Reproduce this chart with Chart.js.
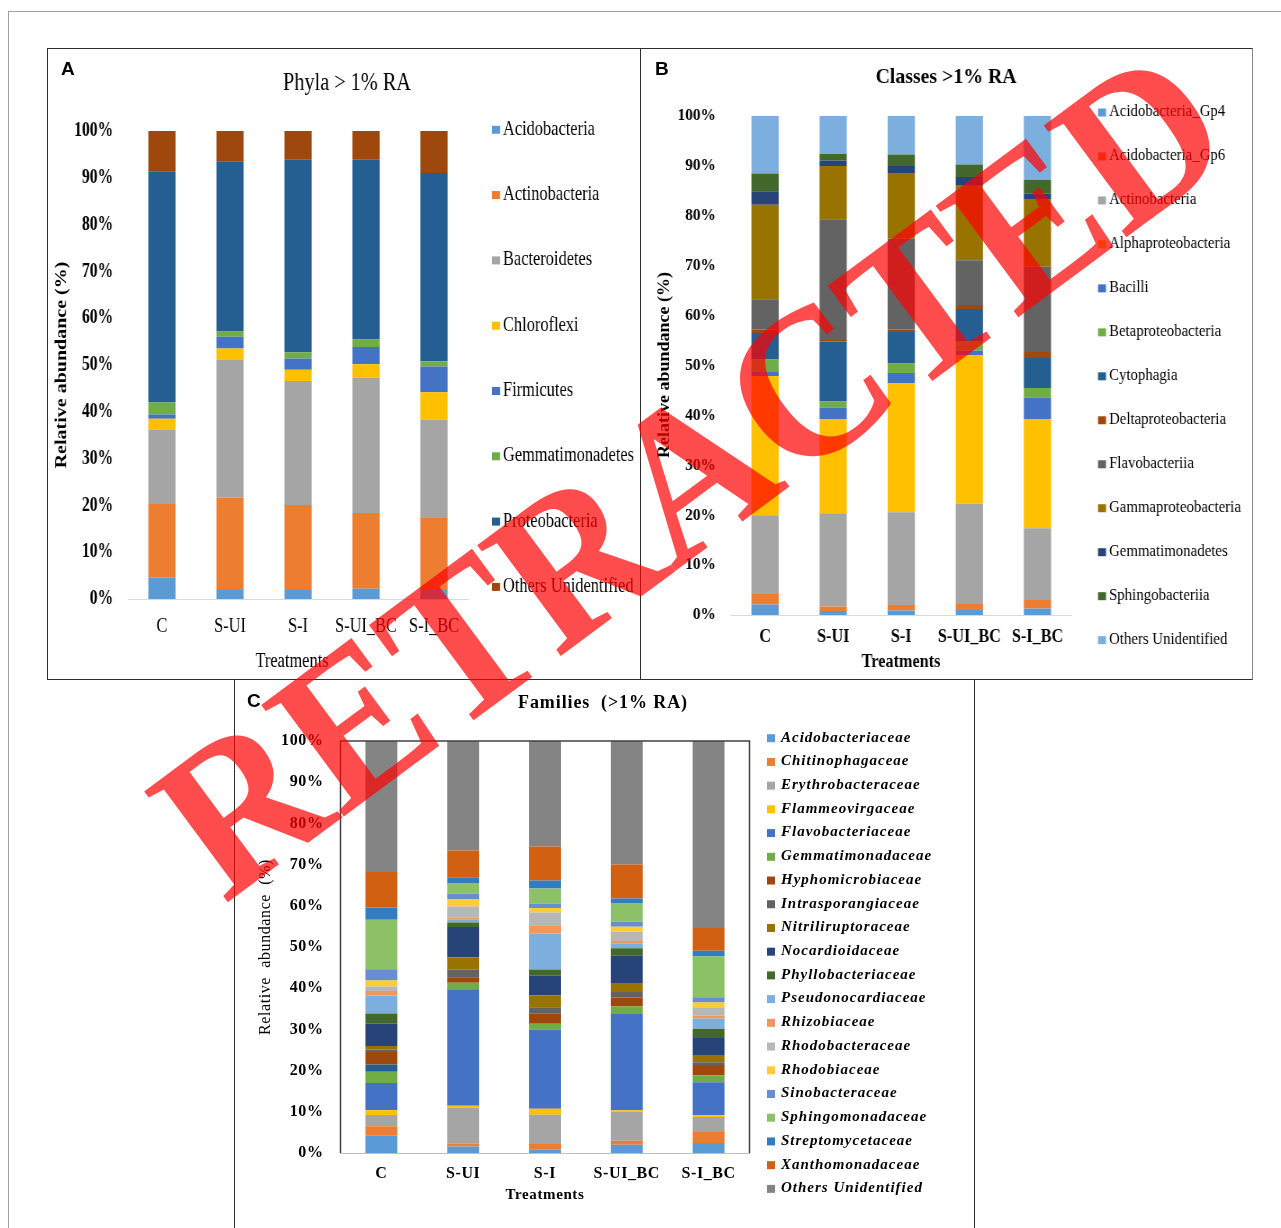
<!DOCTYPE html>
<html>
<head>
<meta charset="utf-8">
<title>Relative abundance by treatment</title>
<script src="https://cdn.jsdelivr.net/npm/chart.js@4.4.1/dist/chart.umd.min.js"></script>
<style>
  html, body { margin: 0; padding: 0; background: #fff; }
  body { position: relative; width: 1281px; height: 1228px; overflow: hidden; }
  .frame { position: absolute; left: 8px; top: 11px; width: 1290px; height: 1240px; border-top: 1px solid #a0a0a0; border-left: 1px solid #a0a0a0; }
  .box { position: absolute; box-sizing: border-box; border: 1.5px solid #2e2e2e; }
  .tag { position: absolute; font: bold 19px "Liberation Sans", Arial, sans-serif; color: #000; line-height: 19px; }
  canvas.panel { position: absolute; transform-origin: 0 0; }
  #stamp { position: absolute; left: 0; top: 0; pointer-events: none; }
</style>
</head>
<body>
<div class="frame"></div>
<div class="box" style="left:47px;top:48px;width:594px;height:632px;"></div>
<div class="box" style="left:640px;top:48px;width:613px;height:632px;border-right-color:#8a8a8a;"></div>
<div class="box" style="left:234px;top:679px;width:741px;height:570px;"></div>
<canvas id="chartA" class="panel"></canvas>
<canvas id="chartB" class="panel"></canvas>
<canvas id="chartC" class="panel"></canvas>
<div class="tag" style="left:61px;top:59px;">A</div>
<div class="tag" style="left:655px;top:59px;">B</div>
<div class="tag" style="left:247px;top:691px;">C</div>
<canvas id="stamp" width="1281" height="1228"></canvas>
<script>
// treatments on the x axis (same in all three panels)
const treatments = ['C', 'S-UI', 'S-I', 'S-UI_BC', 'S-I_BC'];

// A: phyla, % per treatment, stacked bottom to top
const phylaNames = ['Acidobacteria', 'Actinobacteria', 'Bacteroidetes', 'Chloroflexi',
  'Firmicutes', 'Gemmatimonadetes', 'Proteobacteria', 'Others Unidentified'];
const phylaValues = [
  [4.6, 1.9, 1.9, 2.2, 1.9],
  [15.7, 19.8, 18.2, 16.2, 15.4],
  [15.8, 29.5, 26.5, 28.9, 21.0],
  [2.4, 2.35, 2.4, 2.85, 5.9],
  [0.9, 2.5, 2.4, 3.7, 5.5],
  [2.6, 1.1, 1.35, 1.6, 1.1],
  [49.4, 36.4, 41.1, 38.4, 40.2],
  [8.6, 6.45, 6.15, 6.15, 9.0]
];

// B: classes
const classNames = ['Acidobacteria_Gp4', 'Acidobacteria_Gp6', 'Actinobacteria', 'Alphaproteobacteria',
  'Bacilli', 'Betaproteobacteria', 'Cytophagia', 'Deltaproteobacteria', 'Flavobacteriia',
  'Gammaproteobacteria', 'Gemmatimonadetes', 'Sphingobacteriia', 'Others Unidentified'];
const classValues = [
  [2.1, 0.8, 0.9, 1.0, 1.3],
  [2.1, 0.9, 1.1, 1.2, 1.7],
  [15.8, 18.7, 18.6, 20.1, 14.4],
  [27.9, 18.9, 25.9, 29.8, 21.9],
  [0.8, 2.3, 2.0, 0.9, 4.3],
  [2.5, 1.2, 1.9, 1.9, 1.9],
  [5.3, 12.0, 6.3, 6.4, 6.0],
  [0.7, 0.3, 0.5, 0.8, 1.2],
  [6.1, 24.2, 18.2, 9.0, 17.1],
  [18.9, 10.7, 13.2, 14.9, 13.4],
  [2.7, 1.1, 1.4, 1.8, 1.2],
  [3.6, 1.3, 2.3, 2.5, 2.8],
  [11.5, 7.6, 7.7, 9.7, 12.8]
];

// C: families (7th series has no legend entry in the original)
const familyNames = ['Acidobacteriaceae', 'Chitinophagaceae', 'Erythrobacteraceae', 'Flammeovirgaceae',
  'Flavobacteriaceae', 'Gemmatimonadaceae', '', 'Hyphomicrobiaceae', 'Intrasporangiaceae',
  'Nitriliruptoraceae', 'Nocardioidaceae', 'Phyllobacteriaceae', 'Pseudonocardiaceae', 'Rhizobiaceae',
  'Rhodobacteraceae', 'Rhodobiaceae', 'Sinobacteraceae', 'Sphingomonadaceae', 'Streptomycetaceae',
  'Xanthomonadaceae', 'Others Unidentified'];
const familyValues = [
  [4.2, 1.6, 0.8, 2.0, 2.4],
  [2.3, 0.65, 1.4, 1.0, 2.7],
  [2.7, 8.8, 7.1, 7.1, 3.65],
  [1.2, 0.4, 1.45, 0.25, 0.4],
  [6.6, 28.3, 19.2, 23.4, 8.0],
  [2.7, 1.6, 1.45, 1.8, 1.7],
  [1.8, 0, 0, 0, 0],
  [3.0, 1.3, 2.4, 2.2, 2.5],
  [0.65, 1.8, 1.6, 1.3, 0.7],
  [0.8, 3.0, 2.8, 2.2, 1.55],
  [5.5, 7.4, 4.85, 6.6, 4.3],
  [2.4, 1.1, 1.5, 1.85, 2.25],
  [4.4, 0.65, 8.7, 1.2, 2.5],
  [1.1, 0.55, 2.0, 0.55, 0.7],
  [1.05, 2.7, 3.15, 2.25, 2.0],
  [1.45, 1.8, 1.05, 1.2, 1.15],
  [2.75, 1.3, 1.05, 1.2, 1.3],
  [12.0, 2.6, 3.7, 4.6, 9.9],
  [3.0, 1.4, 1.95, 1.05, 1.4],
  [8.6, 6.5, 8.25, 8.25, 5.5],
  [31.8, 26.55, 25.6, 30.0, 45.4]
];

// office default series colours
const palette = ['#5B9BD5', '#ED7D31', '#A5A5A5', '#FFC000', '#4472C4', '#70AD47', '#255E91',
  '#9E480E', '#636363', '#997300', '#264478', '#43682B', '#7CAFDD', '#F1975A', '#B7B7B7',
  '#FFCD33', '#698ED0', '#8CC168', '#327DC2', '#D26012', '#848484'];

const SERIF = '"Liberation Serif", "Times New Roman", serif';

// page geometry of each panel canvas; sx = horizontal squeeze of the original panel
const panelA = { left: 49, top: 50, width: 590, height: 628, sx: 0.78, area: [128, 468, 131, 599], bar: 0.4,
  spacing: 0, xFont: { family: SERIF, size: 21 }, xPad: 15, yFont: { family: SERIF, size: 20, weight: 'bold' },
  yPad: 19, axisColor: '#D9D9D9', frame: false,
  title: 'Phyla > 1% RA', titleFont: '26px ' + SERIF, titleAt: [347, 83], titleSpacing: 0,
  xTitleFont: '21px ' + SERIF, xTitleAt: [292, 661],
  yTitle: 'Relative abundance (%)', yTitleFont: 'bold 20px ' + SERIF, yTitleAt: [62, 365],
  legendFont: '21px ' + SERIF, boxX: 492, textX: 503, legendY0: 129.3, legendDy: 65.3, legendSpacing: 0 };

const panelB = { left: 642, top: 50, width: 609, height: 628, sx: 0.9, area: [731, 1071.5, 116, 615], bar: 0.4,
  spacing: 0, xFont: { family: SERIF, size: 18, weight: 'bold' }, xPad: 12, yFont: { family: SERIF, size: 17, weight: 'bold' },
  yPad: 17, axisColor: '#D9D9D9', frame: false,
  title: 'Classes >1% RA', titleFont: 'bold 22px ' + SERIF, titleAt: [946, 77], titleSpacing: 0,
  xTitleFont: 'bold 18px ' + SERIF, xTitleAt: [901, 662],
  yTitle: 'Relative abundance (%)', yTitleFont: 'bold 18px ' + SERIF, yTitleAt: [665, 365],
  legendFont: '16.5px ' + SERIF, boxX: 1098, textX: 1109, legendY0: 112, legendDy: 43.97, legendSpacing: 0 };

const panelC = { left: 236, top: 681, width: 737, height: 547, sx: 1, area: [340.5, 749.5, 741, 1153], bar: 0.39,
  spacing: 0.6, xFont: { family: SERIF, size: 16, weight: 'bold' }, xPad: 11, yFont: { family: SERIF, size: 16, weight: 'bold' },
  yPad: 17, axisColor: '#BFBFBF', frame: true,
  title: 'Families  (>1% RA)', titleFont: 'bold 18px ' + SERIF, titleAt: [603, 703], titleSpacing: 0.9,
  xTitleFont: 'bold 15px ' + SERIF, xTitleAt: [545, 1195],
  yTitle: 'Relative  abundance  (%)', yTitleFont: '16px ' + SERIF, yTitleAt: [266, 947],
  legendFont: 'italic bold 15px ' + SERIF, boxX: 767, textX: 781, legendY0: 737.7, legendDy: 23.72, legendSpacing: 1 };

function drawExtras(chart, P) {
  const ctx = chart.ctx;
  const X = x => (x - P.left) / P.sx;
  const Y = y => y - P.top;
  const a = chart.chartArea;
  ctx.save();
  if (P.frame) {
    ctx.strokeStyle = '#404040';
    ctx.lineWidth = 1.5;
    ctx.beginPath();
    ctx.moveTo(a.left, a.bottom);
    ctx.lineTo(a.left, a.top);
    ctx.lineTo(a.right, a.top);
    ctx.lineTo(a.right, a.bottom);
    ctx.stroke();
  }
  ctx.fillStyle = '#000';
  ctx.textBaseline = 'middle';
  ctx.textAlign = 'center';
  ctx.letterSpacing = P.titleSpacing + 'px';
  ctx.font = P.titleFont;
  ctx.fillText(P.title, X(P.titleAt[0]), Y(P.titleAt[1]));
  ctx.letterSpacing = P.spacing + 'px';
  ctx.font = P.xTitleFont;
  ctx.fillText('Treatments', X(P.xTitleAt[0]), Y(P.xTitleAt[1]));
  ctx.save();
  ctx.translate(X(P.yTitleAt[0]), Y(P.yTitleAt[1]));
  ctx.rotate(-Math.PI / 2);
  ctx.font = P.yTitleFont;
  ctx.fillText(P.yTitle, 0, 0);
  ctx.restore();

  // legend, same order as the stack (bottom series first)
  ctx.textAlign = 'left';
  ctx.font = P.legendFont;
  ctx.letterSpacing = P.legendSpacing + 'px';
  let k = 0;
  chart.data.datasets.forEach(ds => {
    if (!ds.label) return;
    const y = P.legendY0 + k * P.legendDy;
    ctx.fillStyle = ds.backgroundColor;
    ctx.fillRect(X(P.boxX), Y(y - 3.5), 8 / P.sx, 8);
    ctx.fillStyle = '#000';
    ctx.fillText(ds.label, X(P.textX), Y(y));
    k++;
  });
  ctx.restore();
}

function makeChart(id, P, names, values) {
  const cv = document.getElementById(id);
  const cw = Math.round(P.width / P.sx);
  cv.width = cw;
  cv.height = P.height;
  cv.style.left = P.left + 'px';
  cv.style.top = P.top + 'px';
  cv.style.width = cw + 'px';
  cv.style.height = P.height + 'px';
  cv.style.transform = 'scaleX(' + P.sx + ')';
  const X = x => (x - P.left) / P.sx;
  const Y = y => y - P.top;
  const [l, r, t, b] = P.area;
  const spacer = chart => { chart.ctx.letterSpacing = P.spacing + 'px'; };

  return new Chart(cv, {
    type: 'bar',
    data: {
      labels: treatments,
      datasets: names.map((n, i) => ({
        label: n,
        data: values[i],
        backgroundColor: palette[i],
        borderWidth: 0,
        barPercentage: P.bar,
        categoryPercentage: 1
      }))
    },
    options: {
      responsive: false,
      animation: false,
      devicePixelRatio: 1,
      layout: { padding: { left: 0, top: Y(t), right: cw - X(r), bottom: 0 } },
      plugins: { legend: { display: false }, title: { display: false }, tooltip: { enabled: false } },
      scales: {
        x: {
          stacked: true,
          grid: { display: false, drawTicks: false },
          border: { color: P.axisColor, width: 1 },
          ticks: { font: P.xFont, color: '#000', padding: P.xPad, maxRotation: 0, autoSkip: false },
          afterFit: s => { s.height = P.height - Y(b); }
        },
        y: {
          stacked: true,
          min: 0,
          max: 100,
          grid: { display: false, drawTicks: false },
          border: { display: false },
          ticks: { stepSize: 10, font: P.yFont, color: '#000', padding: P.yPad, callback: v => v + '%' },
          afterFit: s => { s.width = X(l); }
        }
      }
    },
    plugins: [{
      id: 'extras' + id,
      beforeUpdate: spacer,
      beforeDraw: spacer,
      afterDraw: chart => drawExtras(chart, P)
    }]
  });
}

makeChart('chartA', panelA, phylaNames, phylaValues);
makeChart('chartB', panelB, classNames, classValues);
makeChart('chartC', panelC, familyNames, familyValues);

// retraction stamp across the figure
const stamp = document.getElementById('stamp').getContext('2d');
stamp.save();
stamp.translate(224, 905);
stamp.rotate(-36.5 * Math.PI / 180);
stamp.scale(0.95, 1);
stamp.font = 'bold 212px ' + SERIF;
stamp.fillStyle = 'rgba(255, 0, 0, 0.7)';
stamp.textBaseline = 'alphabetic';
stamp.fillText('RETRACTED', 0, 0);
stamp.restore();
</script>
</body>
</html>
